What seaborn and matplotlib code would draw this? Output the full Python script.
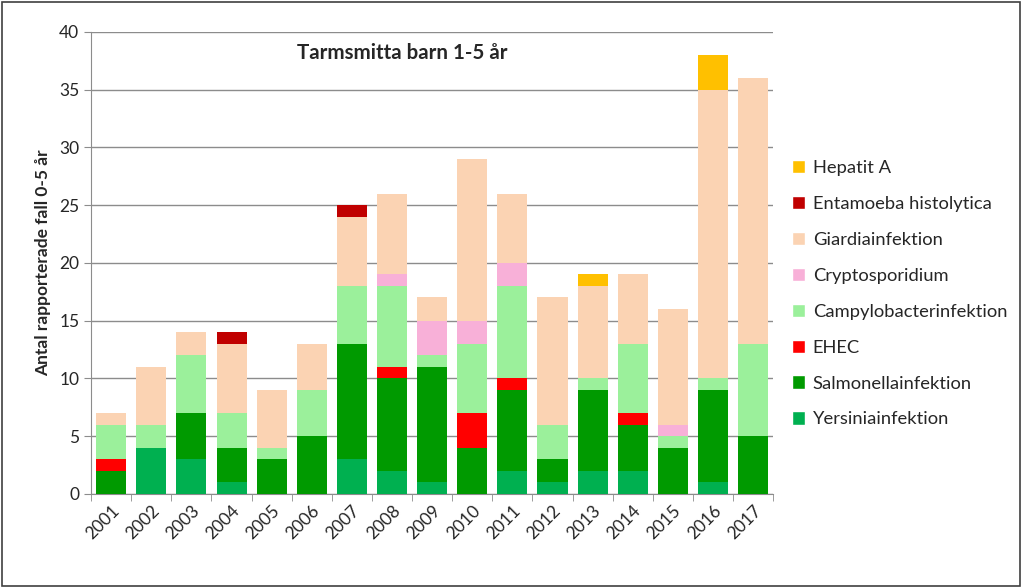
import numpy as np
import pandas as pd
import matplotlib
matplotlib.use("Agg")
import matplotlib.pyplot as plt
import seaborn as sns
from matplotlib.patches import Patch, Rectangle

# -------------------------------
# Data
# -------------------------------
years = [str(y) for y in range(2001, 2018)]

yersinia     = [0, 4, 3, 1, 0, 0, 3, 2, 1, 0, 2, 1, 2, 2, 0, 1, 0]
salmonella   = [2, 0, 4, 3, 3, 5, 10, 8, 10, 4, 7, 2, 7, 4, 4, 8, 5]
ehec         = [1, 0, 0, 0, 0, 0, 0, 1, 0, 3, 1, 0, 0, 1, 0, 0, 0]
campylobacter = [3, 2, 5, 3, 1, 4, 5, 7, 1, 6, 8, 3, 1, 6, 1, 1, 8]
crypto       = [0, 0, 0, 0, 0, 0, 0, 1, 3, 2, 2, 0, 0, 0, 1, 0, 0]
giardia      = [1, 5, 2, 6, 5, 4, 6, 7, 2, 14, 6, 11, 8, 6, 10, 25, 23]
entamoeba    = [0, 0, 0, 1, 0, 0, 1, 0, 0, 0, 0, 0, 0, 0, 0, 0, 0]
hepatit_a    = [0, 0, 0, 0, 0, 0, 0, 0, 0, 0, 0, 0, 1, 0, 0, 3, 0]

series = [
    ("Yersiniainfektion", yersinia, "#00B050"),
    ("Salmonellainfektion", salmonella, "#009A00"),
    ("EHEC", ehec, "#FF0000"),
    ("Campylobacterinfektion", campylobacter, "#9BF09B"),
    ("Cryptosporidium", crypto, "#F8B0D8"),
    ("Giardiainfektion", giardia, "#FBD3B3"),
    ("Entamoeba histolytica", entamoeba, "#C00000"),
    ("Hepatit A", hepatit_a, "#FFC000"),
]

# -------------------------------
# Plot
# -------------------------------
sns.set_style("white")
plt.rcParams["font.family"] = ["Lato", "DejaVu Sans"]

fig = plt.figure(figsize=(10.24, 5.88), dpi=100)
ax = fig.add_axes([0.089, 0.160, 0.666, 0.786])

# stacked bars: draw cumulative totals, tallest layer first
cum = np.cumsum([s[1] for s in series], axis=0)
for i in range(len(series) - 1, -1, -1):
    df = pd.DataFrame({"year": years, "value": cum[i]})
    sns.barplot(data=df, x="year", y="value", color=series[i][2],
                saturation=1, width=0.75, linewidth=0, ax=ax, zorder=3)

ax.set_ylim(0, 40)
ax.set_xlim(-0.5, len(years) - 0.5)
ax.set_yticks(range(0, 41, 5))
ax.yaxis.grid(True, color="#8C8C8C", linewidth=1, zorder=0)
ax.set_axisbelow(True)

ax.set_xlabel("")
ax.set_ylabel("Antal rapporterade fall 0-5 år", fontsize=12.5, fontweight="bold",
              labelpad=6)
ax.tick_params(axis="y", labelsize=12.5, length=5, color="#8C8C8C", left=True)
ax.tick_params(axis="x", which="major", labelsize=12.5, length=0, pad=6)
ax.set_xticks(np.arange(-0.5, len(years), 1), minor=True)
ax.tick_params(axis="x", which="minor", length=5, color="#8C8C8C", bottom=True)
plt.setp(ax.get_xticklabels(), rotation=45, ha="right", rotation_mode="anchor")

for side in ["top", "right"]:
    ax.spines[side].set_visible(False)
for side in ["left", "bottom"]:
    ax.spines[side].set_color("#8C8C8C")

ax.text(0.456, 0.954, "Tarmsmitta barn 1-5 år", transform=ax.transAxes,
        ha="center", va="center", fontsize=14.8, fontweight="bold")

handles = [Patch(facecolor=c, label=name) for name, _, c in series][::-1]
fig.legend(handles=handles, loc="upper left", bbox_to_anchor=(0.757, 0.756),
           frameon=False, fontsize=13.2, handlelength=0.75, handleheight=0.75,
           handletextpad=0.4, labelspacing=1.08)

fig.patches.append(Rectangle((0.002, 0.003), 0.994, 0.994, transform=fig.transFigure,
                             fill=False, edgecolor="#404040", linewidth=1.2))

fig.savefig("out.png", dpi=100)
